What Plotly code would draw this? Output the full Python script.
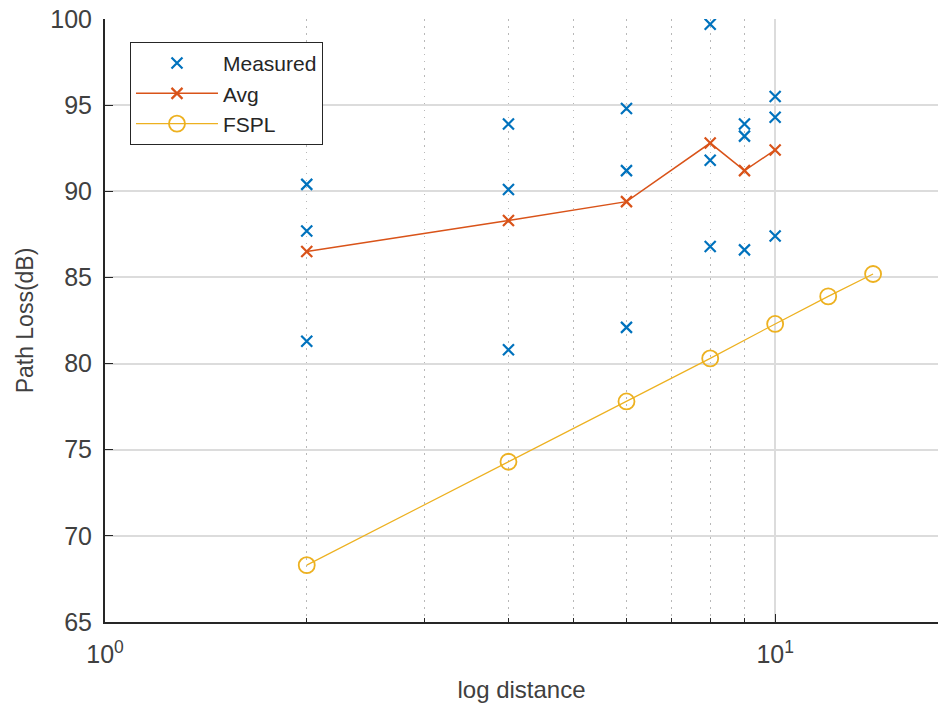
import plotly.graph_objects as go

# distances (m) and measured path loss (dB), three readings per distance
meas_dist = [2, 2, 2, 4, 4, 4, 6, 6, 6, 8, 8, 8, 9, 9, 9, 10, 10, 10]
meas_loss = [90.4, 87.7, 81.3,
             93.9, 90.1, 80.8,
             94.8, 91.2, 82.1,
             99.7, 91.8, 86.8,
             93.9, 93.2, 86.6,
             95.5, 94.3, 87.4]

# average path loss per distance
avg_dist = [2, 4, 6, 8, 9, 10]
avg_loss = [86.5, 88.3, 89.4, 92.8, 91.2, 92.4]

# free-space path loss
fspl_dist = [2, 4, 6, 8, 10, 12, 14]
fspl_loss = [68.3, 74.3, 77.8, 80.3, 82.3, 83.9, 85.2]

y_ticks = [65, 70, 75, 80, 85, 90, 95, 100]
x_ticks = [1, 10]
x_tick_text = ["10<sup>0</sup>", "10<sup>1</sup>"]

BLUE = "#0072BD"
ORANGE = "#D95319"
YELLOW = "#EDB120"
FONT = "Liberation Sans, Arial, sans-serif"

fig = go.Figure()
fig.add_trace(go.Scatter(
    x=meas_dist, y=meas_loss, mode="markers", name="Measured",
    marker=dict(symbol="x-thin", size=11, line=dict(color=BLUE, width=2.2)),
))
fig.add_trace(go.Scatter(
    x=avg_dist, y=avg_loss, mode="lines+markers", name="Avg",
    line=dict(color=ORANGE, width=1.5),
    marker=dict(symbol="x-thin", size=11, line=dict(color=ORANGE, width=2.2)),
))
fig.add_trace(go.Scatter(
    x=fspl_dist, y=fspl_loss, mode="lines+markers", name="FSPL",
    line=dict(color=YELLOW, width=1.2),
    marker=dict(symbol="circle-open", size=16, color=YELLOW, line=dict(width=1.8)),
))

fig.update_layout(
    width=938, height=707,
    margin=dict(l=105, r=0, t=19, b=85),
    paper_bgcolor="white", plot_bgcolor="white",
    font=dict(family=FONT, color="#404040", size=24),
    showlegend=True,
    legend=dict(
        x=0.03, y=0.962, xanchor="left", yanchor="top",
        bgcolor="white", bordercolor="#262626", borderwidth=1,
        font=dict(size=21, color="#262626"),
        itemwidth=82, tracegroupgap=0,
    ),
)

fig.update_xaxes(
    type="log", range=[0, 1.243],
    tickvals=x_ticks, ticktext=x_tick_text,
    tickfont=dict(size=25),
    ticks="inside", ticklen=8, tickcolor="#262626", tickwidth=1.2,
    ticklabelstandoff=9,
    showline=True, linecolor="#262626", linewidth=2,
    showgrid=True, gridcolor="#dcdcdc", gridwidth=2,
    minor=dict(tickvals=[2, 3, 4, 5, 6, 7, 8, 9], ticks="inside", ticklen=4,
               tickcolor="#262626", showgrid=True, gridcolor="#b8b8b8",
               griddash="1.5px,5.5px", gridwidth=1.2),
    zeroline=False,
    title=dict(text="log distance", font=dict(size=24, color="#404040"), standoff=14),
)
fig.update_yaxes(
    range=[65, 100], tickvals=y_ticks,
    tickfont=dict(size=25),
    ticks="inside", ticklen=8, tickcolor="#262626", tickwidth=1.2,
    ticklabelstandoff=6,
    showline=True, linecolor="#262626", linewidth=2,
    showgrid=True, gridcolor="#dcdcdc", gridwidth=1.5,
    zeroline=False,
    title=dict(text="Path Loss(dB)", font=dict(size=23, color="#404040"), standoff=10),
)

fig.write_html("out.html")
